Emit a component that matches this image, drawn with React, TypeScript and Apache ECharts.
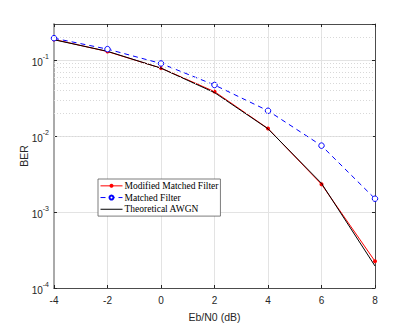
import React, { useEffect, useRef } from "react";
import * as echarts from "echarts";

const ebn0 = [-4, -2, 0, 2, 4, 6, 8];
const modifiedMF = [0.188, 0.13, 0.0787, 0.0386, 0.0126, 0.00232, 0.000225];
const matchedMF = [0.195, 0.14, 0.0906, 0.0472, 0.0216, 0.0075, 0.0015];
const theoretical = [0.186, 0.131, 0.0786, 0.0375, 0.0125, 0.00239, 0.000195];
const seriesNames = ["Modified Matched Filter", "Matched Filter", "Theoretical AWGN"];
const xTitle = "Eb/N0 (dB)";
const yTitle = "BER";
const yMin = 1e-4;
const yMax = 0.3;

const minorValues: number[] = [];
for (let d = -4; d <= -1; d++) {
  for (let m = 2; m <= 9; m++) {
    const v = m * Math.pow(10, d);
    if (v < yMax * 0.999) minorValues.push(v);
  }
}

export default function App() {
  const ref = useRef<HTMLDivElement>(null);
  useEffect(() => {
    if (!ref.current) return;
    const chart = echarts.init(ref.current, undefined, { renderer: "svg" });
    const tickFont = { fontFamily: "Liberation Sans, Arial, sans-serif", color: "#262626" };
    const yFormatter = (v: number) => {
      const l = Math.log10(v);
      const e = Math.round(l);
      if (Math.abs(l - e) > 1e-6) return "";
      return `{b|10}{s|${e}}`;
    };
    chart.setOption({
      animation: false,
      backgroundColor: "#ffffff",
      grid: { left: 54, right: 40, top: 24, bottom: 36, containLabel: false },
      legend: {
        show: true,
        orient: "vertical",
        left: 98,
        top: 179,
        itemGap: 0,
        itemWidth: 22,
        itemHeight: 5,
        padding: [1, 2, 1, 2],
        backgroundColor: "#ffffff",
        borderColor: "#5a5a5a",
        borderWidth: 0.8,
        borderRadius: 0,
        lineStyle: { width: 1 },
        textStyle: {
          fontFamily: "Liberation Serif, Times New Roman, serif",
          fontSize: 9.5,
          color: "#000",
          lineHeight: 11.7,
          padding: [0, 0, 0, -3],
        },
        data: [
          { name: seriesNames[0] },
          { name: seriesNames[1] },
          { name: seriesNames[2], itemStyle: { opacity: 0 } },
        ],
      },
      xAxis: [
        {
          type: "value",
          min: -4,
          max: 8,
          interval: 2,
          name: xTitle,
          nameLocation: "middle",
          nameGap: 23,
          nameMoveOverlap: false,
          nameTextStyle: { ...tickFont, fontSize: 10.5 },
          axisLine: { show: true, onZero: false, lineStyle: { color: "#262626", width: 0.8 } },
          axisTick: { show: true, inside: true, length: 3, lineStyle: { color: "#262626" } },
          axisLabel: { ...tickFont, fontSize: 10, margin: 7 },
          splitLine: { show: true, lineStyle: { color: "#e3e3e3", width: 1 } },
        },
        {
          type: "value",
          position: "top",
          min: -4,
          max: 8,
          interval: 2,
          axisLine: { show: true, onZero: false, lineStyle: { color: "#262626", width: 0.8 } },
          axisTick: { show: true, inside: true, length: 3, lineStyle: { color: "#262626" } },
          axisLabel: { show: false },
          splitLine: { show: false },
        },
      ],
      yAxis: [
        {
          type: "log",
          logBase: 10,
          min: yMin,
          max: yMax,
          name: yTitle,
          nameLocation: "middle",
          nameGap: 25,
          nameMoveOverlap: false,
          nameRotate: 90,
          nameTextStyle: { ...tickFont, fontSize: 10.5 },
          axisLine: { show: true, onZero: false, lineStyle: { color: "#aaaaaa", width: 2 } },
          axisTick: { show: true, inside: true, length: 3, lineStyle: { color: "#262626" } },
          axisLabel: {
            formatter: yFormatter,
            showMaxLabel: false,
            margin: 5,
            rich: {
              b: { ...tickFont, fontSize: 10, verticalAlign: "bottom" },
              s: { ...tickFont, fontSize: 7, verticalAlign: "top", padding: [0, 0, 8, 0] },
            },
          },
          splitLine: { show: true, lineStyle: { color: "#e3e3e3", width: 1 } },
          minorTick: { show: false },
        },
        {
          type: "log",
          logBase: 10,
          min: yMin,
          max: yMax,
          position: "right",
          axisLine: { show: true, onZero: false, lineStyle: { color: "#262626", width: 0.8 } },
          axisTick: { show: true, inside: true, length: 3, lineStyle: { color: "#262626" } },
          axisLabel: { show: false },
          splitLine: { show: false },
        },
      ],
      series: [
        {
          name: "__minor",
          type: "line",
          data: [],
          silent: true,
          markLine: {
            silent: true,
            symbol: "none",
            label: { show: false },
            lineStyle: { color: "#d8d8d8", type: [1, 2], width: 1 },
            data: minorValues.map((v) => ({ yAxis: v })),
          },
        },
        {
          name: seriesNames[2],
          type: "line",
          data: ebn0.map((x, i) => [x, theoretical[i]]),
          symbol: "none",
          lineStyle: { color: "#000000", width: 1 },
          itemStyle: { color: "#000000" },
          z: 3,
        },
        {
          name: seriesNames[0],
          type: "line",
          data: ebn0.map((x, i) => [x, modifiedMF[i]]),
          symbol: "circle",
          symbolSize: 4,
          lineStyle: { color: "#ff0000", width: 1 },
          itemStyle: { color: "#ff0000" },
          z: 2,
        },
        {
          name: seriesNames[1],
          type: "line",
          data: ebn0.map((x, i) => [x, matchedMF[i]]),
          symbol: "circle",
          symbolSize: 5.5,
          lineStyle: { color: "#0000ff", width: 1, type: [5, 4] },
          itemStyle: { color: "#ffffff", borderColor: "#0000ff", borderWidth: 1 },
          z: 4,
        },
      ],
    });
    return () => chart.dispose();
  }, []);
  return <div ref={ref} style={{ position: "absolute", left: 0, top: 0, width: 415, height: 327 }} />;
}
